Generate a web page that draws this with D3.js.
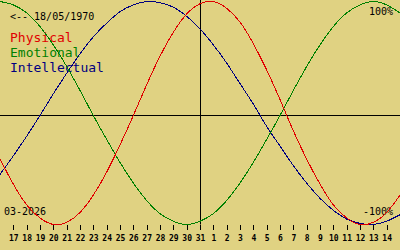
<!DOCTYPE html>
<html><head><meta charset="utf-8">
<script src="https://cdn.jsdelivr.net/npm/d3@7"></script>
<style>
html,body{margin:0;padding:0;background:#e0d282;}
svg{display:block;}
</style></head>
<body>
<script>
// Day labels for index 0..30 (16 Mar .. 15 Apr 2026); ticks shown for 17..14
const dayLabels = ["16","17","18","19","20","21","22","23","24","25","26","27","28","29","30","31",
                   "1","2","3","4","5","6","7","8","9","10","11","12","13","14","15"];
const tickIdx = d3.range(1, 30);
const todayIdx = 15;
const physical = [-40,-63,-82,-94,-100,-98,-89,-73,-52,-27,0,27,52,73,89,98,100,94,82,63,40,14,-14,-40,-63,-82,-94,-100,-98,-89,-73];
const emotional = [100,97,90,78,62,43,22,0,-22,-43,-62,-78,-90,-97,-100,-97,-90,-78,-62,-43,-22,0,22,43,62,78,90,97,100,97,90];
const intellectual = [-54,-37,-19,0,19,37,54,69,81,91,97,100,99,95,87,76,62,46,28,10,-10,-28,-46,-62,-76,-87,-95,-99,-100,-97,-91];
const seriesNames = ["Physical","Emotional","Intellectual"];
const seriesColors = ["#e00000","#008000","#000080"];
const birthLabel = "<-- 18/05/1970";
const monthLabel = "03-2026";
const yMaxLabel = "100%";
const yMinLabel = "-100%";

const W = 400, H = 250;
const svg = d3.select("body").append("svg").attr("width", W).attr("height", H);
svg.append("rect").attr("width", W).attr("height", H).attr("fill", "#e0d282");

const x = d3.scaleLinear().domain([0, 30]).range([0, 400]);
const y = d3.scaleLinear().domain([-100, 0, 100]).range([224.5, 115.5, 1.5]);
const px = v => Math.round(v) + 0.5;

// axes lines
svg.append("line").attr("x1", 0).attr("x2", W).attr("y1", y(0)).attr("y2", y(0))
  .attr("stroke", "#000").attr("stroke-width", 1);
svg.append("line").attr("x1", px(x(todayIdx))).attr("x2", px(x(todayIdx))).attr("y1", 0).attr("y2", y(-100))
  .attr("stroke", "#000").attr("stroke-width", 1);

// ticks
const tg = svg.append("g");
tg.selectAll("line").data(tickIdx).join("line")
  .attr("x1", d => px(x(d))).attr("x2", d => px(x(d)))
  .attr("y1", 225).attr("y2", 230)
  .attr("stroke", "#000").attr("stroke-width", 1);
tg.selectAll("text").data(tickIdx).join("text")
  .attr("x", d => x(d) + 0.5).attr("y", 241)
  .attr("text-anchor", "middle")
  .attr("font-family", "DejaVu Sans Mono").attr("font-weight", "bold").attr("font-size", 8)
  .attr("fill", "#000")
  .text(d => dayLabels[d]);

// texts
const mono = "DejaVu Sans Mono";
svg.append("text").attr("x", 10).attr("y", 20).attr("font-family", mono).attr("font-size", 10).attr("fill", "#000").text(birthLabel);
seriesNames.forEach((n, i) => {
  svg.append("text").attr("x", 10).attr("y", 42 + i * 15).attr("font-family", mono).attr("font-size", 13)
    .attr("fill", seriesColors[i]).text(n);
});
svg.append("text").attr("x", 393).attr("y", 15).attr("text-anchor", "end").attr("font-family", mono).attr("font-size", 10).attr("fill", "#000").text(yMaxLabel);
svg.append("text").attr("x", 393).attr("y", 215).attr("text-anchor", "end").attr("font-family", mono).attr("font-size", 10).attr("fill", "#000").text(yMinLabel);
svg.append("text").attr("x", 4).attr("y", 215).attr("font-family", mono).attr("font-size", 10).attr("fill", "#000").text(monthLabel);

// curves
const line = d3.line().x((d, i) => x(i)).y(d => y(d)).curve(d3.curveNatural);
const series = [intellectual, emotional, physical];
const cols = [seriesColors[2], seriesColors[1], seriesColors[0]];
series.forEach((s, i) => {
  svg.append("path").attr("d", line(s)).attr("fill", "none").attr("stroke", cols[i])
    .attr("stroke-width", 1).attr("shape-rendering", "crispEdges");
});
</script>
</body></html>
